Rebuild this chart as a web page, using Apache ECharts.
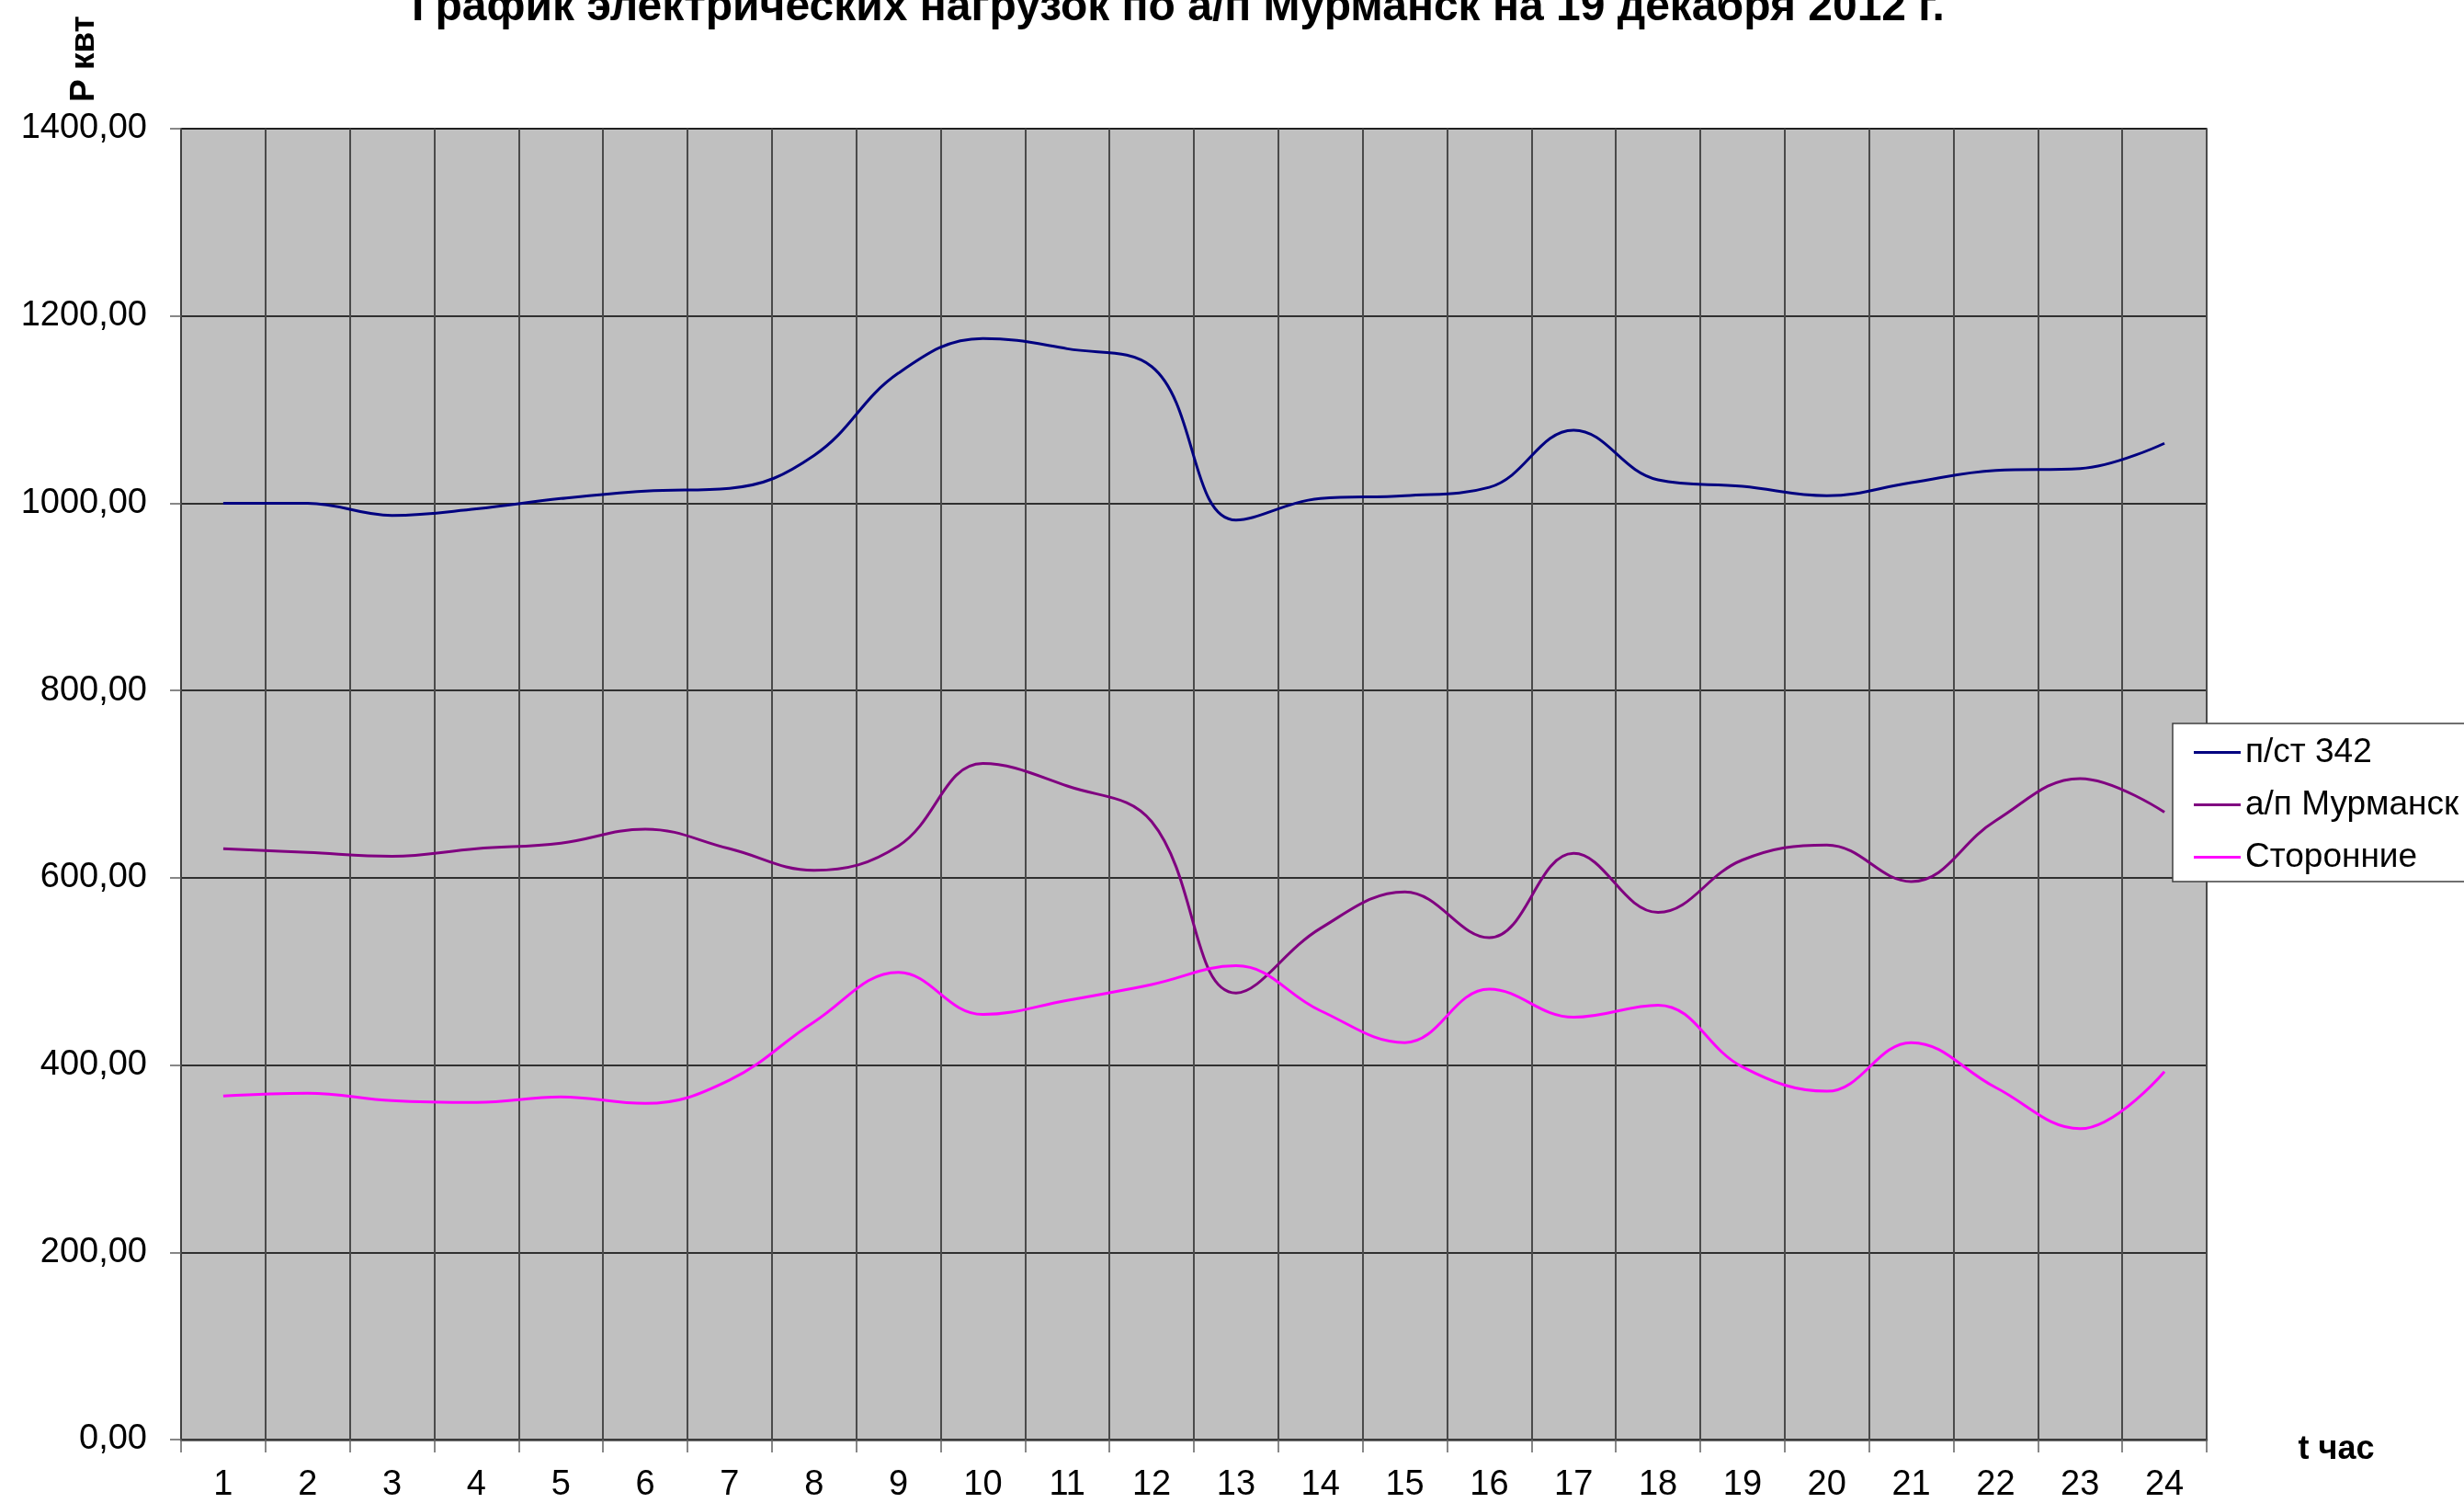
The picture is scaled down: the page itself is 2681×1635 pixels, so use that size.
<!DOCTYPE html>
<html>
<head>
<meta charset="utf-8">
<title>График электрических нагрузок</title>
<script src="https://cdn.jsdelivr.net/npm/echarts@6/dist/echarts.min.js"></script>
<style>
  html, body { margin: 0; padding: 0; background: #fff; }
  #chart { width: 2681px; height: 1635px; }
</style>
</head>
<body>
<div id="chart"></div>
<script>
// часы суток
const hours = ['1', '2', '3', '4', '5', '6', '7', '8', '9', '10', '11', '12',
  '13', '14', '15', '16', '17', '18', '19', '20', '21', '22', '23', '24'];

// нагрузка, кВт
const pst342 = [1000, 1000, 987, 994, 1005, 1013, 1016, 1051, 1139, 1176, 1165, 1146,
  982, 1005, 1008, 1017, 1078, 1025, 1018, 1008, 1022, 1035, 1037, 1064];
const murmansk = [631, 627, 623, 631, 637, 652, 631, 608, 634, 722, 698, 660,
  477, 546, 585, 536, 626, 563, 619, 635, 596, 661, 706, 670];
const storonnie = [367, 370, 362, 360, 366, 359, 384, 446, 499, 454, 469, 486,
  506, 458, 424, 481, 451, 464, 398, 372, 424, 376, 332, 393];

const seriesNames = ['п/ст 342', 'а/п Мурманск', 'Сторонние'];
const font = "'Liberation Sans', Arial, sans-serif";

const chart = echarts.init(document.getElementById('chart'));

const lineSeries = (name, data, color) => ({
  name: name,
  type: 'line',
  data: data,
  smooth: 0.4,
  symbol: 'none',
  lineStyle: { color: color, width: 3 },
  itemStyle: { color: color }
});

const option = {
  animation: false,
  backgroundColor: '#ffffff',
  textStyle: { fontFamily: font },
  title: {
    text: 'График электрических нагрузок по а/п Мурманск на 19 декабря 2012 г.',
    left: 1277,
    textAlign: 'center',
    top: -20,
    textStyle: { fontFamily: font, fontSize: 48, fontWeight: 'bold', color: '#000' }
  },
  legend: {
    orient: 'vertical',
    left: 2364,
    top: 787,
    padding: [13, 30, 8, 23],
    itemGap: 20,
    itemWidth: 51,
    itemHeight: 3,
    icon: 'rect',
    backgroundColor: '#ffffff',
    borderColor: '#404040',
    borderWidth: 1.5,
    textStyle: { fontFamily: font, fontSize: 37, color: '#000', lineHeight: 34 },
    data: seriesNames
  },
  grid: {
    left: 197,
    right: 280,
    top: 140,
    bottom: 69,
    show: true,
    backgroundColor: '#c0c0c0',
    borderColor: '#808080',
    borderWidth: 2
  },
  xAxis: {
    type: 'category',
    data: hours,
    boundaryGap: true,
    axisLine: { lineStyle: { color: '#404040', width: 2.5 } },
    axisTick: { show: true, length: 14, lineStyle: { color: '#606060', width: 1.5 } },
    axisLabel: { fontFamily: font, fontSize: 38, color: '#000', margin: 31 },
    splitLine: { show: true, lineStyle: { color: '#4a4a4a', width: 2 } }
  },
  yAxis: {
    type: 'value',
    min: 0,
    max: 1400,
    interval: 200,
    axisLine: { show: true, lineStyle: { color: '#404040', width: 2 } },
    axisTick: { show: true, length: 12, lineStyle: { color: '#606060', width: 1.5 } },
    axisLabel: {
      fontFamily: font, fontSize: 38, color: '#000', margin: 37,
      formatter: v => v.toFixed(2).replace('.', ',')
    },
    splitLine: { show: true, lineStyle: { color: '#000', width: 1.5 } }
  },
  graphic: [
    {
      type: 'text',
      x: 92,
      y: 64,
      rotation: Math.PI / 2,
      style: {
        text: 'Р квт',
        fontFamily: font, fontSize: 37, fontWeight: 'bold', fill: '#000',
        textAlign: 'center', textVerticalAlign: 'middle'
      }
    },
    {
      type: 'text',
      x: 2542,
      y: 1577,
      style: {
        text: 't час',
        fontFamily: font, fontSize: 36, fontWeight: 'bold', fill: '#000',
        textAlign: 'center', textVerticalAlign: 'middle'
      }
    }
  ],
  series: [
    lineSeries(seriesNames[0], pst342, '#000080'),
    lineSeries(seriesNames[1], murmansk, '#800080'),
    lineSeries(seriesNames[2], storonnie, '#ff00ff')
  ]
};

chart.setOption(option);
</script>
</body>
</html>
